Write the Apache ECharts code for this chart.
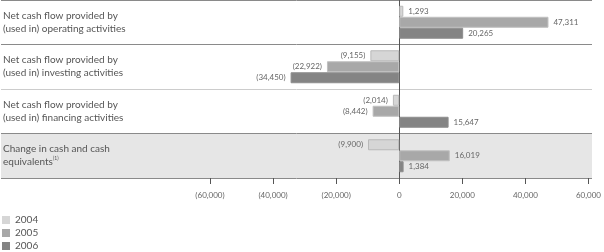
<!DOCTYPE html>
<html>
<head>
<meta charset="utf-8">
<script src="https://cdn.jsdelivr.net/npm/echarts@6/dist/echarts.min.js"></script>
<style>
  html, body { margin: 0; padding: 0; background: #fff; }
  #chart { width: 604px; height: 252px; }
</style>
</head>
<body>
<div id="chart"></div>
<script>
// Cash flow summary, 2004-2006
const categories = [
  'Net cash flow provided by\n(used in) operating activities',
  'Net cash flow provided by\n(used in) investing activities',
  'Net cash flow provided by\n(used in) financing activities',
  'Change in cash and cash\nequivalents'
];
const years = ['2004', '2005', '2006'];
const v2004 = [1293, -9155, -2014, -9900];
const v2005 = [47311, -22922, -8442, 16019];
const v2006 = [20265, -34450, 15647, 1384];

const colors = ['#d6d6d6', '#a8a8a8', '#848484'];
const borders = ['#b8b8b8', '#c0c0c0', '#8e8e8e'];
const font = 'Lato, "Liberation Sans", sans-serif';

function fmt(v) {
  const s = Math.abs(v).toLocaleString('en-US');
  return v < 0 ? '(' + s + ')' : s;
}

function makeSeries(name, vals, i) {
  return {
    name: name,
    type: 'bar',
    xAxisIndex: 0, yAxisIndex: 0,
    barWidth: 11,
    barGap: '0%',
    itemStyle: { color: colors[i], borderColor: borders[i], borderWidth: 1 },
    data: vals.map(v => ({
      value: v,
      label: { position: v < 0 ? 'left' : 'right' }
    })),
    label: {
      show: true, distance: 5,
      fontFamily: font, fontSize: 8, color: '#666',
      formatter: p => fmt(p.value)
    }
  };
}

const chart = echarts.init(document.getElementById('chart'), null, { renderer: 'canvas' });
chart.setOption({
  animation: false,
  textStyle: { fontFamily: font },
  legend: {
    orient: 'vertical', left: 2, top: 214, padding: 0,
    itemWidth: 8, itemHeight: 8, itemGap: 1, icon: 'rect',
    itemStyle: { borderWidth: 0 },
    textStyle: { fontSize: 10, color: '#555', fontFamily: font, lineHeight: 12 },
    data: years
  },
  grid: [
    { left: 210, right: 12, top: 0, bottom: 74 },
    { left: 0, right: 12, top: 0, bottom: 74 }
  ],
  xAxis: [
    {
      gridIndex: 0, type: 'value', min: -60000, max: 60000, interval: 20000,
      axisLine: { show: false },
      axisTick: { show: true, length: 6, lineStyle: { color: '#555' } },
      splitLine: { show: false },
      axisLabel: { margin: 13, fontSize: 8, color: '#666', fontFamily: font, formatter: v => fmt(v) }
    },
    { gridIndex: 1, type: 'value', min: 0, max: 1, show: false }
  ],
  yAxis: [
    {
      gridIndex: 0, type: 'category', data: categories, inverse: true,
      axisLine: { show: true, onZero: true, lineStyle: { color: '#555', width: 1 } },
      axisTick: { show: false },
      axisLabel: { show: false },
      splitLine: { show: false }
    },
    {
      gridIndex: 1, type: 'category', data: categories, inverse: true,
      axisLine: { show: false },
      axisTick: { show: false },
      splitLine: { show: true, lineStyle: { color: ['#8a8a8a', '#8a8a8a', '#cccccc', '#8a8a8a', '#8a8a8a'], width: 1 } },
      splitArea: { show: true, areaStyle: { color: ['rgba(0,0,0,0)', 'rgba(0,0,0,0)', 'rgba(0,0,0,0)', '#e6e6e6'] } },
      axisLabel: {
        inside: true, margin: 2, align: 'left',
        fontSize: 10, color: '#555', fontFamily: font, lineHeight: 13,
        formatter: (v, idx) => idx === 3
          ? 'Change in cash and cash\nequivalents{sup|(1)}'
          : v,
        rich: { sup: { fontSize: 5, verticalAlign: 'top', padding: [0, 0, 6, 0], color: '#555' } }
      }
    }
  ],
  series: [
    makeSeries('2004', v2004, 0),
    makeSeries('2005', v2005, 1),
    makeSeries('2006', v2006, 2)
  ]
});
</script>
</body>
</html>
